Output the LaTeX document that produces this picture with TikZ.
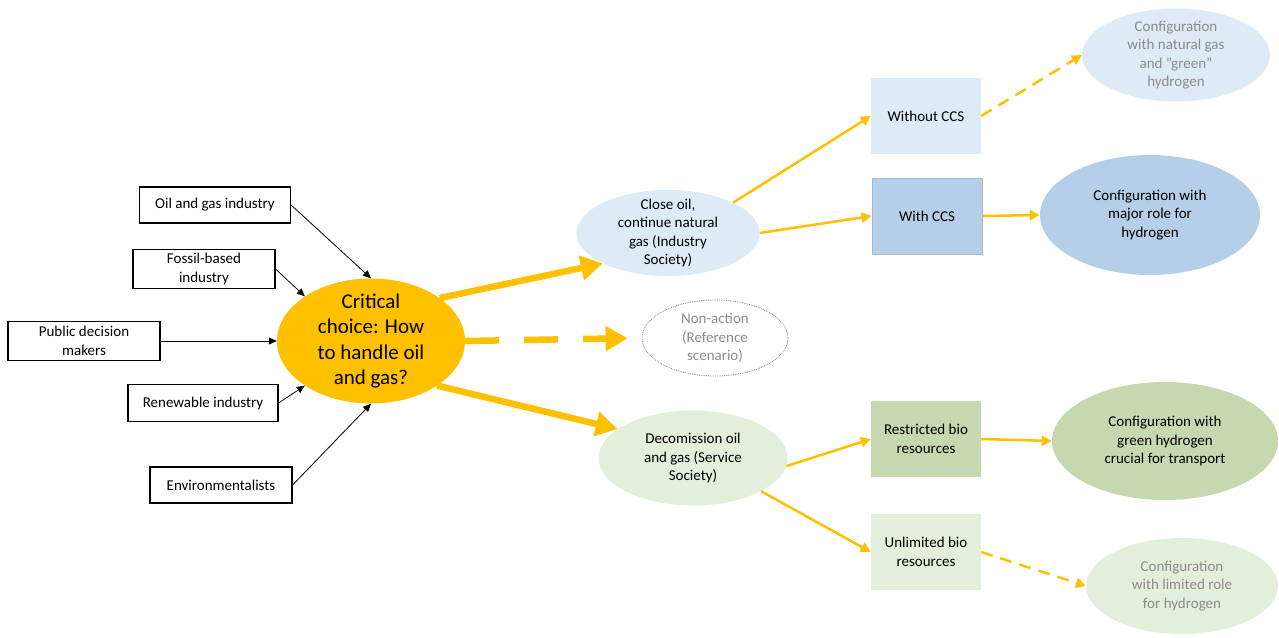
\documentclass[tikz,border=0pt]{standalone}
\usepackage{fontspec}
\setmainfont{Carlito}
\usetikzlibrary{shapes.geometric,arrows.meta}
\definecolor{gold}{HTML}{FFC000}
\definecolor{paleblue}{HTML}{DDEBF7}
\definecolor{midblue}{HTML}{B6CFE8}
\definecolor{edgeblue}{HTML}{9DBBD9}
\definecolor{palegreen}{HTML}{E2EFDA}
\definecolor{midgreen}{HTML}{C5D8B0}
\definecolor{fadetext}{HTML}{8C8C8C}
\begin{document}
\begin{tikzpicture}
  [x=1pt,y=-1pt,font=\fontsize{15}{18.5}\selectfont,
   actor/.style={draw,line width=1.2pt,align=center,inner sep=2pt},
   blob/.style={ellipse,align=center,inner sep=-30pt},
   optbox/.style={align=center,minimum width=110pt,minimum height=76pt,inner sep=2pt},
   thin/.style={-{Triangle[length=8pt,width=7pt]},line width=0.8pt},
   heavy/.style={gold,-{Triangle[length=22pt,width=24pt]},line width=6.5pt},
   flow/.style={gold,-{Triangle[length=10pt,width=10pt]},line width=2.5pt}]
  \useasboundingbox (0,0) rectangle (1279,637);
  \node[actor,minimum width=151pt,minimum height=36pt] (oil) at (215,205) {Oil and gas industry};
  \node[actor,minimum width=142pt,minimum height=39pt] (fossil) at (204,269) {Fossil-based\\industry};
  \node[actor,minimum width=152pt,minimum height=39pt] (public) at (84,341) {Public decision\\makers};
  \node[actor,minimum width=150pt,minimum height=37pt] (renew) at (203,403) {Renewable industry};
  \node[actor,minimum width=142pt,minimum height=36pt] (env) at (221,485) {Environmentalists};

  \node[blob,fill=gold,minimum width=188pt,minimum height=125pt,font=\fontsize{21}{25.6}\selectfont] (crit) at (371,341) {Critical\\choice: How\\to handle oil\\and gas?};
  \node[blob,fill=paleblue,minimum width=183pt,minimum height=86pt] (close) at (668,233) {Close oil,\\continue natural\\gas (Industry\\Society)};
  \node[blob,draw=gray,densely dotted,line width=0.8pt,text=fadetext,minimum width=146pt,minimum height=76pt] (nonact) at (715,338) {Non-action\\(Reference\\scenario)};
  \node[blob,fill=palegreen,minimum width=189pt,minimum height=95pt] (decom) at (693,458) {Decomission oil\\and gas (Service\\Society)};

  \node[optbox,fill=paleblue] (woccs) at (926,116) {Without CCS};
  \node[optbox,fill=midblue,draw=edgeblue,line width=0.8pt] (wccs) at (927,216) {With CCS};
  \node[optbox,fill=midgreen] (restr) at (926,439) {Restricted bio\\resources};
  \node[optbox,fill=palegreen] (unlim) at (926,552) {Unlimited bio\\resources};

  \node[blob,fill=paleblue,text=fadetext,minimum width=188pt,minimum height=93pt] (cfgng) at (1176,55) {Configuration\\with natural gas\\and "green"\\hydrogen};
  \node[blob,fill=midblue,minimum width=220pt,minimum height=120pt] (cfgmaj) at (1150,215) {Configuration with\\major role for\\hydrogen};
  \node[blob,fill=midgreen,minimum width=226pt,minimum height=118pt] (cfggreen) at (1165,441) {Configuration with\\green hydrogen\\crucial for transport};
  \node[blob,fill=palegreen,text=fadetext,minimum width=192pt,minimum height=96pt] (cfglim) at (1182,586) {Configuration\\with limited role\\for hydrogen};

  \foreach \from/\to in {oil.east/crit.north,fossil.east/crit.146,public.east/crit.west,renew.east/crit.214,env.east/crit.south}
    \draw[thin] (\from) -- (\to);
  \foreach \from/\to in {crit.32/close.205,crit.-34/decom.159}
    \draw[heavy] (\from) -- (\to);
  \draw[heavy,dash pattern=on 34pt off 25pt,shorten >=14pt] (crit.east) -- (nonact.west);
  \foreach \from/\to in {close.25/woccs.west,close.east/wccs.west,decom.-5/restr.west,decom.-26/unlim.west,wccs.east/cfgmaj.west,restr.east/cfggreen.west}
    \draw[flow] (\from) -- (\to);
  \foreach \from/\to in {woccs.east/cfgng.west,unlim.east/cfglim.west}
    \draw[flow,dash pattern=on 12pt off 8pt] (\from) -- (\to);
\end{tikzpicture}
\end{document}
